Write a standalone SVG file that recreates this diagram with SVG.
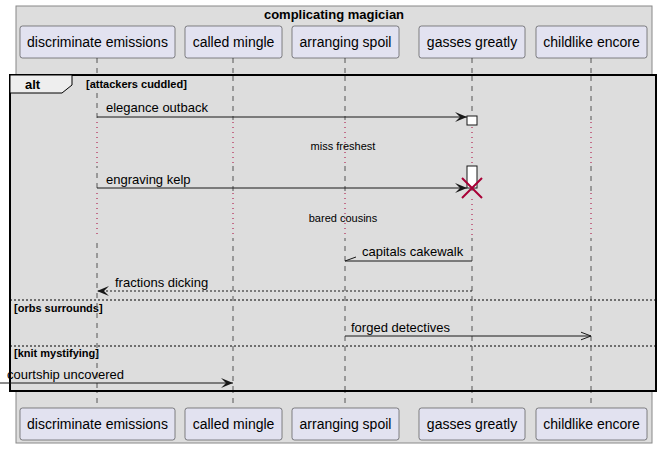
<svg xmlns="http://www.w3.org/2000/svg" width="663" height="449" viewBox="0 0 663 449">
<style>
.box{fill:#DDDDDD;stroke:#888888;stroke-width:1}
.part{fill:#E2E2F0;stroke:#181818;stroke-width:0.5}
.pt{font-family:"Liberation Sans",Arial,sans-serif;font-size:14px;fill:#000;text-anchor:middle}
.life{stroke:#555555;stroke-width:1;stroke-dasharray:5,5}
.delay{stroke:#A80036;stroke-width:1;stroke-dasharray:1,4}
.msg{stroke:#181818;stroke-width:1;fill:none}
.ml{font-family:"Liberation Sans",Arial,sans-serif;font-size:13px;fill:#000}
.dl{font-family:"Liberation Sans",Arial,sans-serif;font-size:11px;fill:#000;text-anchor:middle}
.guard{font-family:"Liberation Sans",Arial,sans-serif;font-size:11px;font-weight:bold;fill:#000}
.sep{stroke:#000;stroke-width:1;stroke-dasharray:2,2}
.act{fill:#FFFFFF;stroke:#181818;stroke-width:1}
</style>
<defs>
<marker id="filled" viewBox="0 0 12 10" refX="12" refY="5" markerWidth="12" markerHeight="10" markerUnits="userSpaceOnUse" orient="auto">
<path d="M0,0 L12,5 L0,10 L5,5 Z" fill="#181818"/>
</marker>
<marker id="open" viewBox="0 0 11 10" refX="10.5" refY="5" markerWidth="11" markerHeight="10" markerUnits="userSpaceOnUse" orient="auto">
<path d="M0,1 L10.5,5 L0,9" fill="none" stroke="#181818" stroke-width="1"/>
</marker>
</defs>
<rect x="0" y="0" width="663" height="449" fill="#FFFFFF"/>
<g id="container">
<rect class="box" x="16" y="6" width="636" height="437"/>
<text x="334" y="19" font-family="Liberation Sans,Arial,sans-serif" font-size="13" font-weight="bold" text-anchor="middle">complicating magician</text>
</g>
<g id="lifelines">
<line class="life" x1="97" y1="58" x2="97" y2="408"/>
<line class="life" x1="233" y1="58" x2="233" y2="408"/>
<line class="life" x1="345" y1="58" x2="345" y2="408"/>
<line class="life" x1="472" y1="58" x2="472" y2="408"/>
<line class="life" x1="591" y1="58" x2="591" y2="408"/>
</g>
<g id="alt-frame">
<rect x="10" y="75" width="646" height="316" fill="#DDDDDD" stroke="#000" stroke-width="2"/>
<path d="M10,75 L72,75 L72,85 L62,93 L10,93 Z" fill="#EEEEEE" stroke="#000" stroke-width="1"/>
<text x="25" y="89" font-family="Liberation Sans,Arial,sans-serif" font-size="13" font-weight="bold">alt</text>
<text class="guard" x="86" y="88">[attackers cuddled]</text>
<line class="sep" x1="10" y1="300" x2="656" y2="300"/>
<text class="guard" x="14" y="312">[orbs surrounds]</text>
<line class="sep" x1="10" y1="346" x2="656" y2="346"/>
<text class="guard" x="14" y="357">[knit mystifying]</text>
</g>
<g id="lifeline-overlay">
<line class="life" x1="97" y1="93" x2="97" y2="390"/>
<line class="life" x1="233" y1="76" x2="233" y2="390"/>
<line class="life" x1="345" y1="76" x2="345" y2="390"/>
<line class="life" x1="472" y1="76" x2="472" y2="390"/>
<line class="life" x1="591" y1="76" x2="591" y2="390"/>
</g>
<g id="delays">
<rect x="20" y="120" width="630" height="46" fill="#DDDDDD"/>
<rect x="20" y="191" width="630" height="47" fill="#DDDDDD"/>
<line class="delay" x1="97" y1="122" x2="97" y2="166"/>
<line class="delay" x1="233" y1="122" x2="233" y2="166"/>
<line class="delay" x1="345" y1="122" x2="345" y2="166"/>
<line class="delay" x1="472" y1="127" x2="472" y2="166"/>
<line class="delay" x1="591" y1="122" x2="591" y2="166"/>
<text class="dl" x="343" y="150">miss freshest</text>
<line class="delay" x1="97" y1="193" x2="97" y2="238"/>
<line class="delay" x1="233" y1="193" x2="233" y2="238"/>
<line class="delay" x1="345" y1="193" x2="345" y2="238"/>
<line class="delay" x1="472" y1="199" x2="472" y2="238"/>
<line class="delay" x1="591" y1="193" x2="591" y2="238"/>
<text class="dl" x="343" y="222">bared cousins</text>
</g>
<g id="activations">
<rect class="act" x="467" y="116" width="10" height="9"/>
<rect class="act" x="467" y="166" width="10" height="22"/>
</g>
<g id="connectors">
<line class="msg" x1="97" y1="117" x2="467" y2="117" marker-end="url(#filled)"/>
<text class="ml" x="106" y="112">elegance outback</text>
<line class="msg" x1="97" y1="188" x2="467" y2="188" marker-end="url(#filled)"/>
<text class="ml" x="106" y="184">engraving kelp</text>
<line class="msg" x1="472" y1="261" x2="345" y2="261"/>
<line class="msg" x1="345" y1="261" x2="356" y2="257"/>
<text class="ml" x="362" y="256">capitals cakewalk</text>
<line class="msg" x1="472" y1="291" x2="97" y2="291" stroke-dasharray="2,2" marker-end="url(#filled)"/>
<text class="ml" x="115" y="287">fractions dicking</text>
<line class="msg" x1="345" y1="336" x2="591" y2="336" marker-end="url(#open)"/>
<text class="ml" x="351" y="332">forged detectives</text>
<line class="msg" x1="0" y1="383" x2="233" y2="383" marker-end="url(#filled)"/>
<text class="ml" x="7" y="379">courtship uncovered</text>
</g>
<g id="destroy">
<path d="M462,178 L482,198 M482,178 L462,198" stroke="#A80036" stroke-width="2" fill="none"/>
</g>
<g id="p-discriminate-top"><rect class="part" x="20" y="26" width="155" height="32" rx="2.5"/><text class="pt" x="97.5" y="47">discriminate emissions</text></g>
<g id="p-called-top"><rect class="part" x="185" y="26" width="97" height="32" rx="2.5"/><text class="pt" x="233.5" y="47">called mingle</text></g>
<g id="p-arranging-top"><rect class="part" x="292" y="26" width="107" height="32" rx="2.5"/><text class="pt" x="345.5" y="47">arranging spoil</text></g>
<g id="p-gasses-top"><rect class="part" x="419" y="26" width="106" height="32" rx="2.5"/><text class="pt" x="472" y="47">gasses greatly</text></g>
<g id="p-childlike-top"><rect class="part" x="536" y="26" width="111" height="32" rx="2.5"/><text class="pt" x="591.5" y="47">childlike encore</text></g>
<g id="p-discriminate-bottom"><rect class="part" x="20" y="408" width="155" height="32" rx="2.5"/><text class="pt" x="97.5" y="429">discriminate emissions</text></g>
<g id="p-called-bottom"><rect class="part" x="185" y="408" width="97" height="32" rx="2.5"/><text class="pt" x="233.5" y="429">called mingle</text></g>
<g id="p-arranging-bottom"><rect class="part" x="292" y="408" width="107" height="32" rx="2.5"/><text class="pt" x="345.5" y="429">arranging spoil</text></g>
<g id="p-gasses-bottom"><rect class="part" x="419" y="408" width="106" height="32" rx="2.5"/><text class="pt" x="472" y="429">gasses greatly</text></g>
<g id="p-childlike-bottom"><rect class="part" x="536" y="408" width="111" height="32" rx="2.5"/><text class="pt" x="591.5" y="429">childlike encore</text></g>
</svg>
